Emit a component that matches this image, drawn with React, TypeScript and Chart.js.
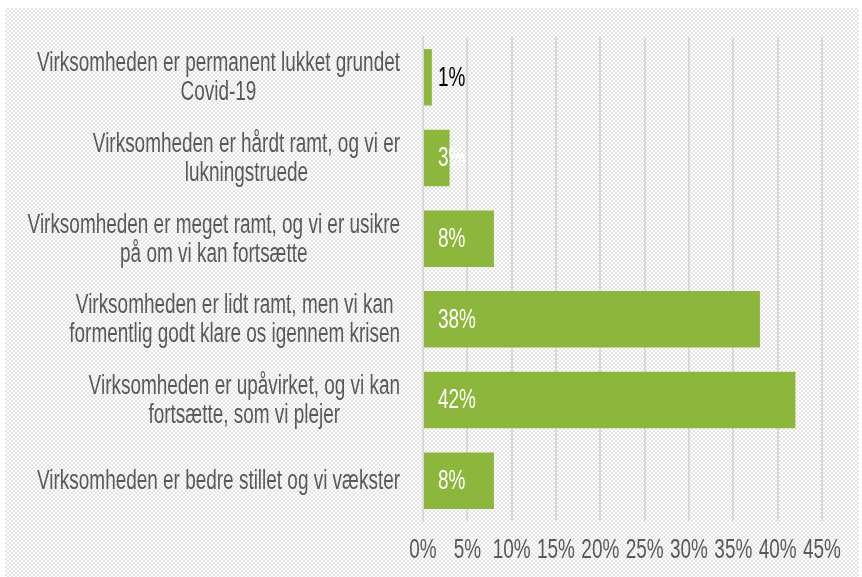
import React, { useEffect, useRef } from "react";
import { Chart, registerables } from "chart.js";

Chart.register(...registerables);

const categories: string[][] = [
  ["Virksomheden er permanent lukket grundet", "Covid-19"],
  ["Virksomheden er hårdt ramt, og vi er", "lukningstruede"],
  ["Virksomheden er meget ramt, og vi er usikre", "på om vi kan fortsætte"],
  ["Virksomheden er lidt ramt, men vi kan", "formentlig godt klare os igennem krisen"],
  ["Virksomheden er upåvirket, og vi kan", "fortsætte, som vi plejer"],
  ["Virksomheden er bedre stillet og vi vækster"],
];
const shares: number[] = [1, 3, 8, 38, 42, 8];
const axisMax = 45;
const axisStep = 5;

const FONT = '"Liberation Sans", Arial, sans-serif';
const FONT_SIZE = 27;
const TEXT = "#595959";
const GREEN = "#8db63c";
const GRID = "#d9d9d9";

function drawNarrow(ctx: CanvasRenderingContext2D, text: string, x: number, y: number, align: CanvasTextAlign, k: number) {
  ctx.save();
  ctx.translate(x, y);
  ctx.scale(k, 1);
  ctx.textAlign = align;
  ctx.fillText(text, 0, 0);
  ctx.restore();
}

const labelPlugin = {
  id: "customLabels",
  afterDatasetsDraw(chart: any) {
    const ctx: CanvasRenderingContext2D = chart.ctx;
    const xs = chart.scales.x;
    const ys = chart.scales.y;
    ctx.save();
    ctx.font = `${FONT_SIZE}px ${FONT}`;
    ctx.textBaseline = "middle";
    // horizontal compression so the long first line spans like the reference's condensed face
    const k = 363 / ctx.measureText(categories[0][0]).width;
    const lh = 29;
    const right = xs.left - 23;
    categories.forEach((lines, i) => {
      const cy = ys.getPixelForValue(i);
      const widest = Math.max(...lines.map((l) => ctx.measureText(l).width)) * k;
      const cx = right - widest / 2;
      ctx.fillStyle = TEXT;
      lines.forEach((l, j) => {
        drawNarrow(ctx, l, cx, cy + 1 + (j - (lines.length - 1) / 2) * lh, "center", k);
      });
    });
    const meta = chart.getDatasetMeta(0);
    const base = xs.getPixelForValue(0);
    shares.forEach((v, i) => {
      const bar = meta.data[i];
      const w = bar.x - base;
      ctx.fillStyle = w < 12 ? "#000000" : "#ffffff";
      drawNarrow(ctx, v + "%", base + 15, bar.y + 1, "left", k);
    });
    ctx.fillStyle = TEXT;
    xs.ticks.forEach((t: any) => {
      const px = xs.getPixelForValue(t.value);
      drawNarrow(ctx, t.value + "%", px, 551, "center", k);
    });
    ctx.restore();
  },
};

export default function App() {
  const ref = useRef<HTMLCanvasElement>(null);
  useEffect(() => {
    if (!ref.current) return;
    const chart = new Chart(ref.current, {
      type: "bar",
      data: {
        labels: categories.map((c) => c.join(" ")),
        datasets: [
          {
            data: shares,
            backgroundColor: GREEN,
            borderWidth: 0,
            barPercentage: 0.7,
            categoryPercentage: 1,
          },
        ],
      },
      plugins: [labelPlugin],
      options: {
        indexAxis: "y",
        animation: false,
        responsive: false,
        devicePixelRatio: 1,
        layout: { padding: { top: 37, right: 40, left: 0, bottom: 0 } },
        plugins: { legend: { display: false }, tooltip: { enabled: false } },
        scales: {
          x: {
            min: 0,
            max: axisMax,
            grid: { color: GRID, lineWidth: 2, drawTicks: false },
            border: { display: false },
            ticks: { stepSize: axisStep, display: false },
            afterFit: (s: any) => {
              s.height = 56;
            },
          },
          y: {
            grid: { display: false },
            border: { display: true, color: GRID, width: 2 },
            ticks: { display: false },
            afterFit: (s: any) => {
              s.width = 423;
            },
          },
        },
      },
    } as any);
    return () => chart.destroy();
  }, []);
  return (
    <div style={{ position: "fixed", left: 0, top: 0, width: 862, height: 577, background: "#fff" }}>
      <div
        style={{
          position: "absolute",
          left: 5,
          top: 8,
          width: 854,
          height: 569,
          backgroundImage: "repeating-conic-gradient(#e4e4e4 0% 25%, #ffffff 0% 50%)",
          backgroundSize: "4px 4px",
        }}
      />
      <canvas ref={ref} width={862} height={577} style={{ position: "absolute", left: 0, top: 0, display: "block" }} />
    </div>
  );
}
